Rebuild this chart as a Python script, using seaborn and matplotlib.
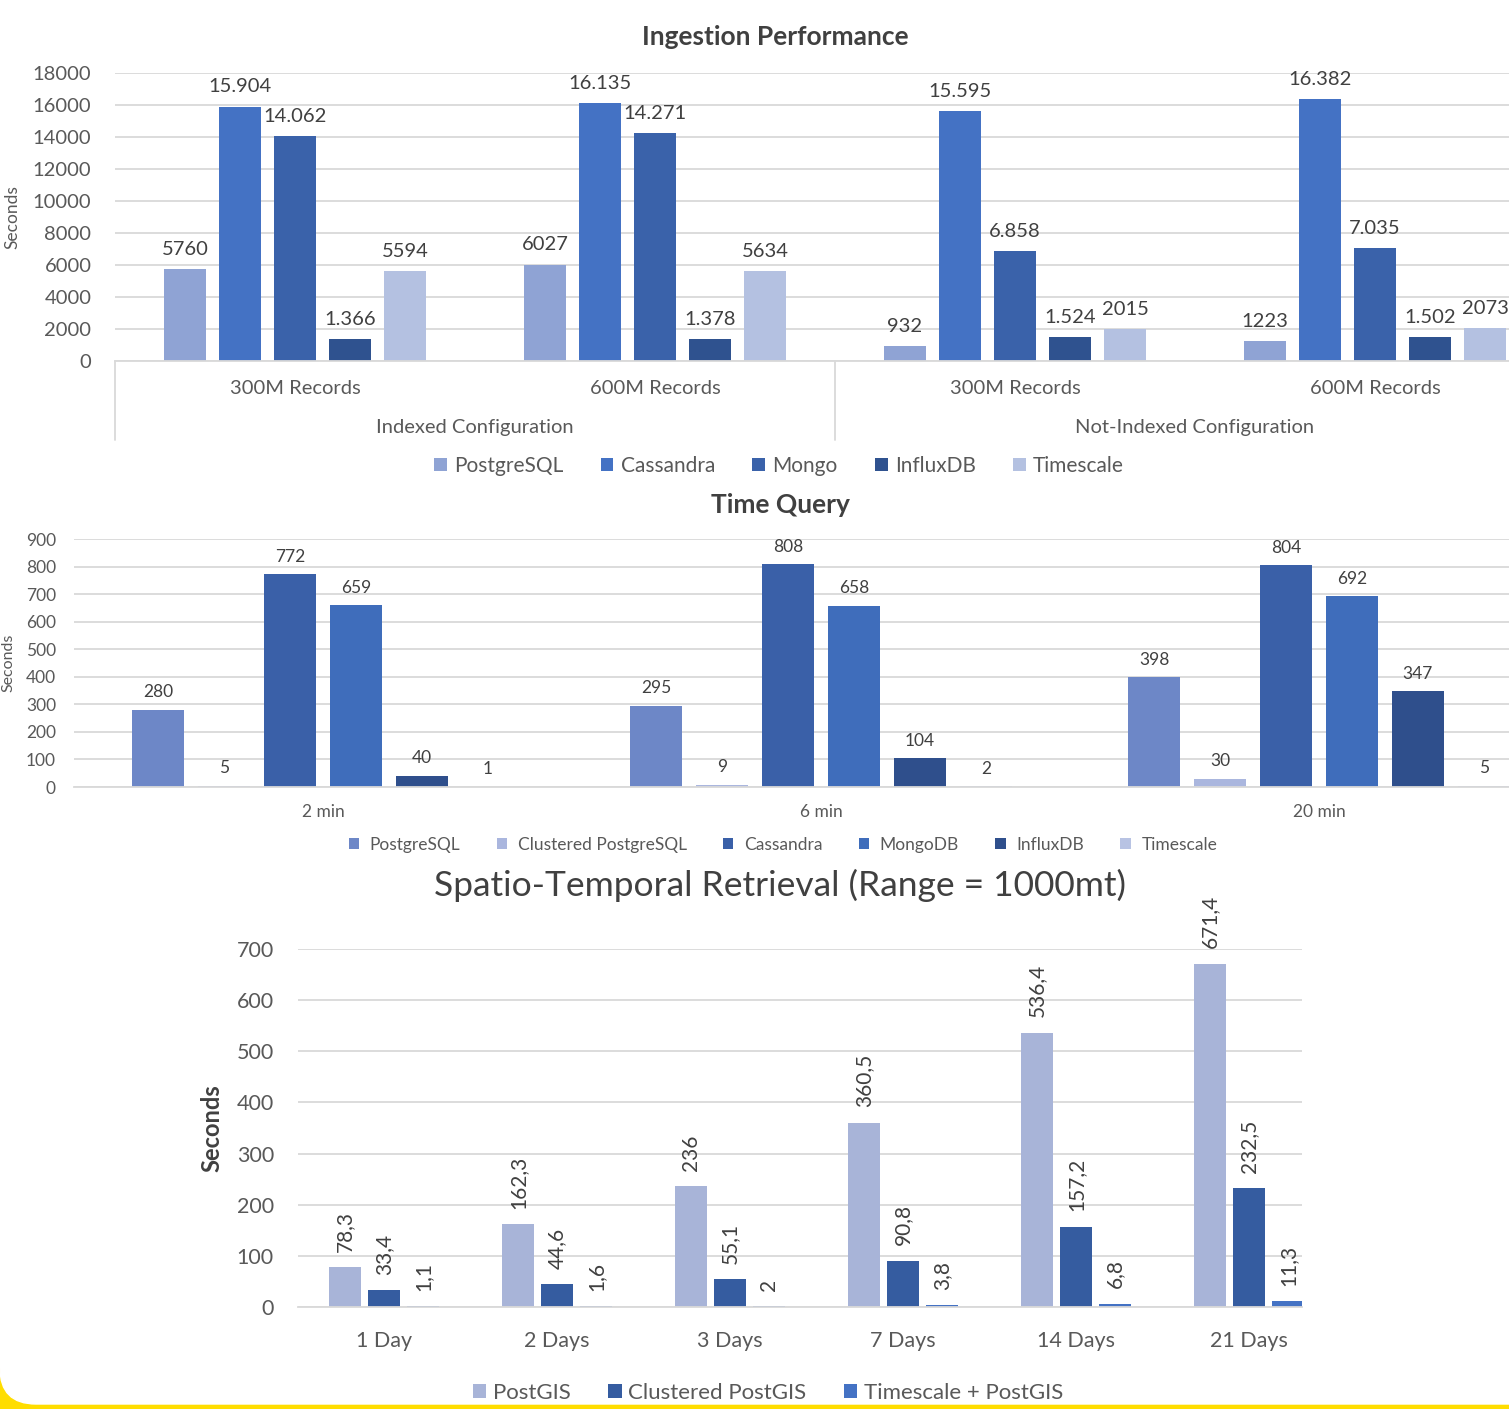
import numpy as np
import pandas as pd
import seaborn as sns
import matplotlib.pyplot as plt
from matplotlib.patches import Rectangle, FancyBboxPatch

# --- Ingestion Performance (seconds) ---
ingest_configs = ["Indexed Configuration", "Not-Indexed Configuration"]
ingest_sizes = ["300M Records", "600M Records"]
ingest_dbs = ["PostgreSQL", "Cassandra", "Mongo", "InfluxDB", "Timescale"]
ingest_postgres = [5760, 6027, 932, 1223]
ingest_cassandra = [15904, 16135, 15595, 16382]
ingest_mongo = [14062, 14271, 6858, 7035]
ingest_influx = [1366, 1378, 1524, 1502]
ingest_timescale = [5594, 5634, 2015, 2073]
ingest_dotted = ["Cassandra", "Mongo", "InfluxDB"]  # these use "." as thousands sep in the labels
ingest_colors = ["#8FA3D4", "#4472C4", "#3A62AA", "#2F528F", "#B4C1E1"]

# --- Time Query (seconds) ---
tq_windows = ["2 min", "6 min", "20 min"]
tq_dbs = ["PostgreSQL", "Clustered PostgreSQL", "Cassandra", "MongoDB", "InfluxDB", "Timescale"]
tq_postgres = [280, 295, 398]
tq_clustered = [5, 9, 30]
tq_cassandra = [772, 808, 804]
tq_mongo = [659, 658, 692]
tq_influx = [40, 104, 347]
tq_timescale = [1, 2, 5]
tq_colors = ["#6D87C7", "#AAB6DE", "#3A60A8", "#3F6DBB", "#2F4F8C", "#B8C3E3"]

# --- Spatio-Temporal Retrieval (seconds) ---
st_ranges = ["1 Day", "2 Days", "3 Days", "7 Days", "14 Days", "21 Days"]
st_dbs = ["PostGIS", "Clustered PostGIS", "Timescale + PostGIS"]
st_postgis = [78.3, 162.3, 236, 360.5, 536.4, 671.4]
st_clustered = [33.4, 44.6, 55.1, 90.8, 157.2, 232.5]
st_timescale = [1.1, 1.6, 2, 3.8, 6.8, 11.3]
st_colors = ["#A8B4D8", "#355CA0", "#4472C4"]


def long_frame(cats, names, series):
    rows = []
    for name, vals in zip(names, series):
        for c, v in zip(cats, vals):
            rows.append((c, name, v))
    return pd.DataFrame(rows, columns=["cat", "db", "value"])


sns.set_theme(style="white")
plt.rcParams['font.family'] = ['Lato', 'DejaVu Sans']
TICK = "#595959"
TITLE = "#404040"
GRID = "#D9D9D9"

W, H = 1509, 1409
fig = plt.figure(figsize=(W / 100, H / 100), dpi=100)


def px_axes(left, top, right, bottom):
    return fig.add_axes([left / W, 1 - bottom / H, (right - left) / W, (bottom - top) / H])


def style_axes(ax, fs):
    sns.despine(ax=ax, left=True, top=True, right=True)
    ax.spines["bottom"].set_color(GRID)
    ax.spines["bottom"].set_linewidth(1.3)
    ax.yaxis.grid(True, color=GRID, lw=1.3)
    ax.set_axisbelow(True)
    ax.tick_params(length=0, labelsize=fs, labelcolor=TICK)
    ax.set_xlabel("")


# ---------------- panel 1 ----------------
slots = [c + "|" + s for c in ingest_configs for s in ingest_sizes]
df1 = long_frame(slots, ingest_dbs,
                 [ingest_postgres, ingest_cassandra, ingest_mongo, ingest_influx, ingest_timescale])
ax1 = px_axes(115, 73, 115 + 4 * 360, 361)
sns.barplot(data=df1, x="cat", y="value", hue="db", order=slots, hue_order=ingest_dbs,
            palette=ingest_colors, saturation=1, width=0.764, gap=0.22, linewidth=0,
            errorbar=None, ax=ax1)
ax1.set_ylim(0, 18000)
ax1.set_yticks(np.arange(0, 18001, 2000))
ax1.set_xlim(-0.5, 3.5)
ax1.set_xticks(range(4))
ax1.set_xticklabels(ingest_sizes * 2)
style_axes(ax1, 14.5)
ax1.tick_params(axis="x", pad=14)
ax1.tick_params(axis="y", pad=17)
for cont, name in zip(ax1.containers, ingest_dbs):
    if name in ingest_dotted:
        labs = [f"{v:,.0f}".replace(",", ".") for v in cont.datavalues]
    else:
        labs = [f"{v:.0f}" for v in cont.datavalues]
    ax1.bar_label(cont, labels=labs, padding=8, fontsize=14.5, color=TITLE)
trans = ax1.get_xaxis_transform()
for x in [-0.5, 1.5, 3.5]:
    ax1.plot([x, x], [0, -0.274], transform=trans, color=GRID, lw=1.3, clip_on=False)
for i, c in enumerate(ingest_configs):
    ax1.text(2 * i + 0.5, -0.232, c, transform=trans, ha="center", va="center",
             fontsize=14.5, color=TICK)
ax1.set_ylabel("Seconds", fontsize=12.5, color=TICK, va="center")
ax1.yaxis.set_label_coords(-0.0715, 0.5)
sns.move_legend(ax1, "center", bbox_to_anchor=(779 / W, 1 - 466 / H),
                bbox_transform=fig.transFigure, ncol=5, frameon=False, title=None,
                fontsize=15, handlelength=0.6, handleheight=0.6, handletextpad=0.35,
                columnspacing=1.8, labelcolor=TICK)
fig.text(775 / W, 1 - 37 / H, "Ingestion Performance", ha="center", va="center",
         fontsize=19, fontweight="bold", color=TITLE)

# ---------------- panel 2 ----------------
df2 = long_frame(tq_windows, tq_dbs,
                 [tq_postgres, tq_clustered, tq_cassandra, tq_mongo, tq_influx, tq_timescale])
ax2 = px_axes(74, 539, 74 + 3 * 498, 787)
sns.barplot(data=df2, x="cat", y="value", hue="db", order=tq_windows, hue_order=tq_dbs,
            palette=tq_colors, saturation=1, width=0.795, gap=0.21, linewidth=0,
            errorbar=None, ax=ax2)
ax2.set_ylim(0, 900)
ax2.set_yticks(np.arange(0, 901, 100))
ax2.set_xlim(-0.5, 2.5)
style_axes(ax2, 12.5)
ax2.tick_params(axis="x", pad=12)
ax2.tick_params(axis="y", pad=13)
for cont in ax2.containers:
    ax2.bar_label(cont, fmt="%.0f", padding=7, fontsize=12.5, color=TITLE)
ax2.set_ylabel("Seconds", fontsize=11.5, color=TICK, va="center")
ax2.yaxis.set_label_coords(-0.044, 0.5)
sns.move_legend(ax2, "center", bbox_to_anchor=(783 / W, 1 - 845 / H),
                bbox_transform=fig.transFigure, ncol=6, frameon=False, title=None,
                fontsize=12.5, handlelength=0.6, handleheight=0.6, handletextpad=0.6,
                columnspacing=2.1, labelcolor=TICK)
fig.text(780 / W, 1 - 505 / H, "Time Query", ha="center", va="center",
         fontsize=19, fontweight="bold", color=TITLE)

# ---------------- panel 3 ----------------
df3 = long_frame(st_ranges, st_dbs, [st_postgis, st_clustered, st_timescale])
ax3 = px_axes(297.5, 949, 1302, 1307)
sns.barplot(data=df3, x="cat", y="value", hue="db", order=st_ranges, hue_order=st_dbs,
            palette=st_colors, saturation=1, width=0.676, gap=0.2, linewidth=0,
            errorbar=None, ax=ax3)
ax3.set_ylim(0, 700)
ax3.set_yticks(np.arange(0, 701, 100))
ax3.set_xlim(-0.5, 5.306)
style_axes(ax3, 15.5)
ax3.tick_params(axis="x", pad=17)
ax3.tick_params(axis="y", pad=17)
for cont in ax3.containers:
    labs = [f"{v:g}".replace(".", ",") for v in cont.datavalues]
    ax3.bar_label(cont, labels=labs, padding=11, fontsize=15, color=TITLE, rotation=90)
ax3.set_ylabel("Seconds", fontsize=17, fontweight="bold", color=TITLE, va="center")
ax3.yaxis.set_label_coords(-0.085, 0.5)
sns.move_legend(ax3, "center", bbox_to_anchor=(768 / W, 1 - 1393 / H),
                bbox_transform=fig.transFigure, ncol=3, frameon=False, title=None,
                fontsize=16, handlelength=0.6, handleheight=0.6, handletextpad=0.3,
                columnspacing=1.7, labelcolor=TICK)
fig.text(780 / W, 1 - 885 / H, "Spatio-Temporal Retrieval (Range = 1000mt)", ha="center",
         va="center", fontsize=25.5, color=TITLE)

# yellow frame at the bottom edge
fig.add_artist(Rectangle((0, 0), W / 100, 0.6, transform=fig.dpi_scale_trans,
                         color="#FFDD00", zorder=-2))
fig.add_artist(FancyBboxPatch((0, 0.05), 17, 2.0, boxstyle="round,pad=0,rounding_size=0.36",
                              transform=fig.dpi_scale_trans, color="white", zorder=-1))

fig.savefig("out.png", dpi=100)
